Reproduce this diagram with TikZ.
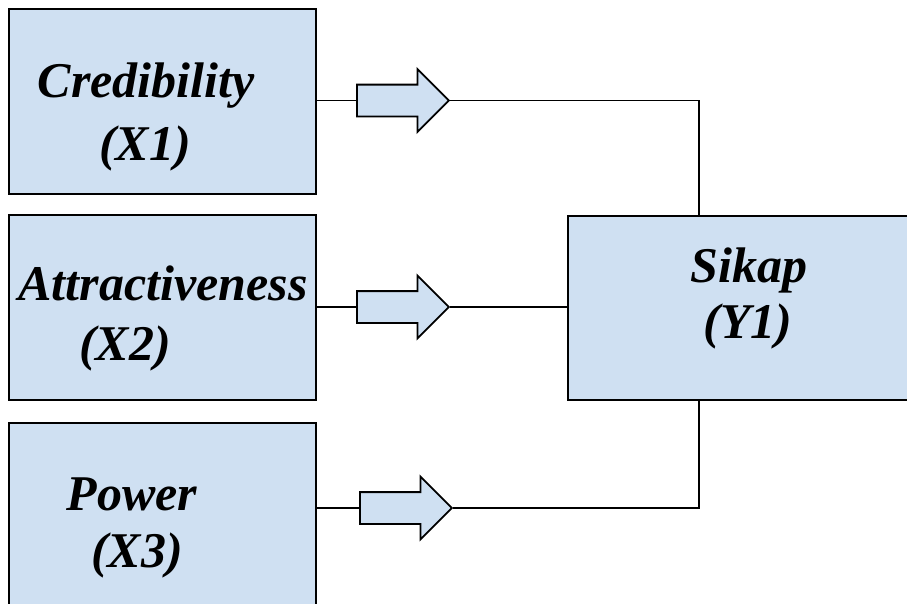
\documentclass[tikz,border=0pt]{standalone}
\usepackage{fontspec}
\setmainfont{Liberation Serif}
\usetikzlibrary{shapes.arrows}
\definecolor{boxfill}{RGB}{207,224,242}
\begin{document}
\begin{tikzpicture}[x=1pt,y=-1pt,
  blk/.style={draw=black, line width=1.8pt, fill=boxfill, inner sep=0pt, anchor=north west},
  lbl/.style={font=\fontsize{50}{60}\selectfont\bfseries\itshape, inner sep=0pt, anchor=base},
  conn/.style={line width=1.5pt},
  barrow/.style={single arrow, draw=black, line width=1.8pt, fill=boxfill,
    inner xsep=0pt, inner ysep=15pt, minimum width=0pt, minimum height=92pt,
    single arrow head extend=15.5pt, single arrow tip angle=90, anchor=west}]
\clip (0,0) rectangle (907,603);
\fill[white] (0,0) rectangle (907,603);
% boxes
\node[blk, minimum width=307pt, minimum height=185pt] (x1) at (8,8) {};
\node[blk, minimum width=307pt, minimum height=185pt] (x2) at (8,214) {};
\node[blk, minimum width=307pt, minimum height=200pt] (x3) at (8,422) {};
\node[blk, minimum width=370pt, minimum height=184pt] (y1) at (567,215) {};
% labels
\node[lbl] (x1a) at (146,97) {Credibility};
\node[lbl] (x1b) at (145,160) {(X1)};
\node[lbl] (x2a) at (163,300) {Attractiveness};
\node[lbl] (x2b) at (125,360) {(X2)};
\node[lbl] (x3a) at (132,510) {Power};
\node[lbl] (x3b) at (137,567) {(X3)};
\node[lbl] (y1a) at (749,282) {Sikap};
\node[lbl] (y1b) at (748,338) {(Y1)};
% arrows
\node[barrow] (a1) at (356,100.5) {};
\node[barrow] (a2) at (356,307) {};
\node[barrow] (a3) at (359,508) {};
\coordinate (j1) at (699,100.5);
\coordinate (j3) at (699,508);
% connectors
\draw[conn] (x1.east |- a1.west) -- (a1.west);
\draw[conn] (x2.east |- a2.west) -- (a2.west);
\draw[conn] (x3.east |- a3.west) -- (a3.west);
\draw[conn] (a1.tip) -- (j1) -- (j1 |- y1.north);
\draw[conn] (a2.tip) -- (a2.tip -| y1.west);
\draw[conn] (a3.tip) -- (j3) -- (j3 |- y1.south);
\end{tikzpicture}
\end{document}
